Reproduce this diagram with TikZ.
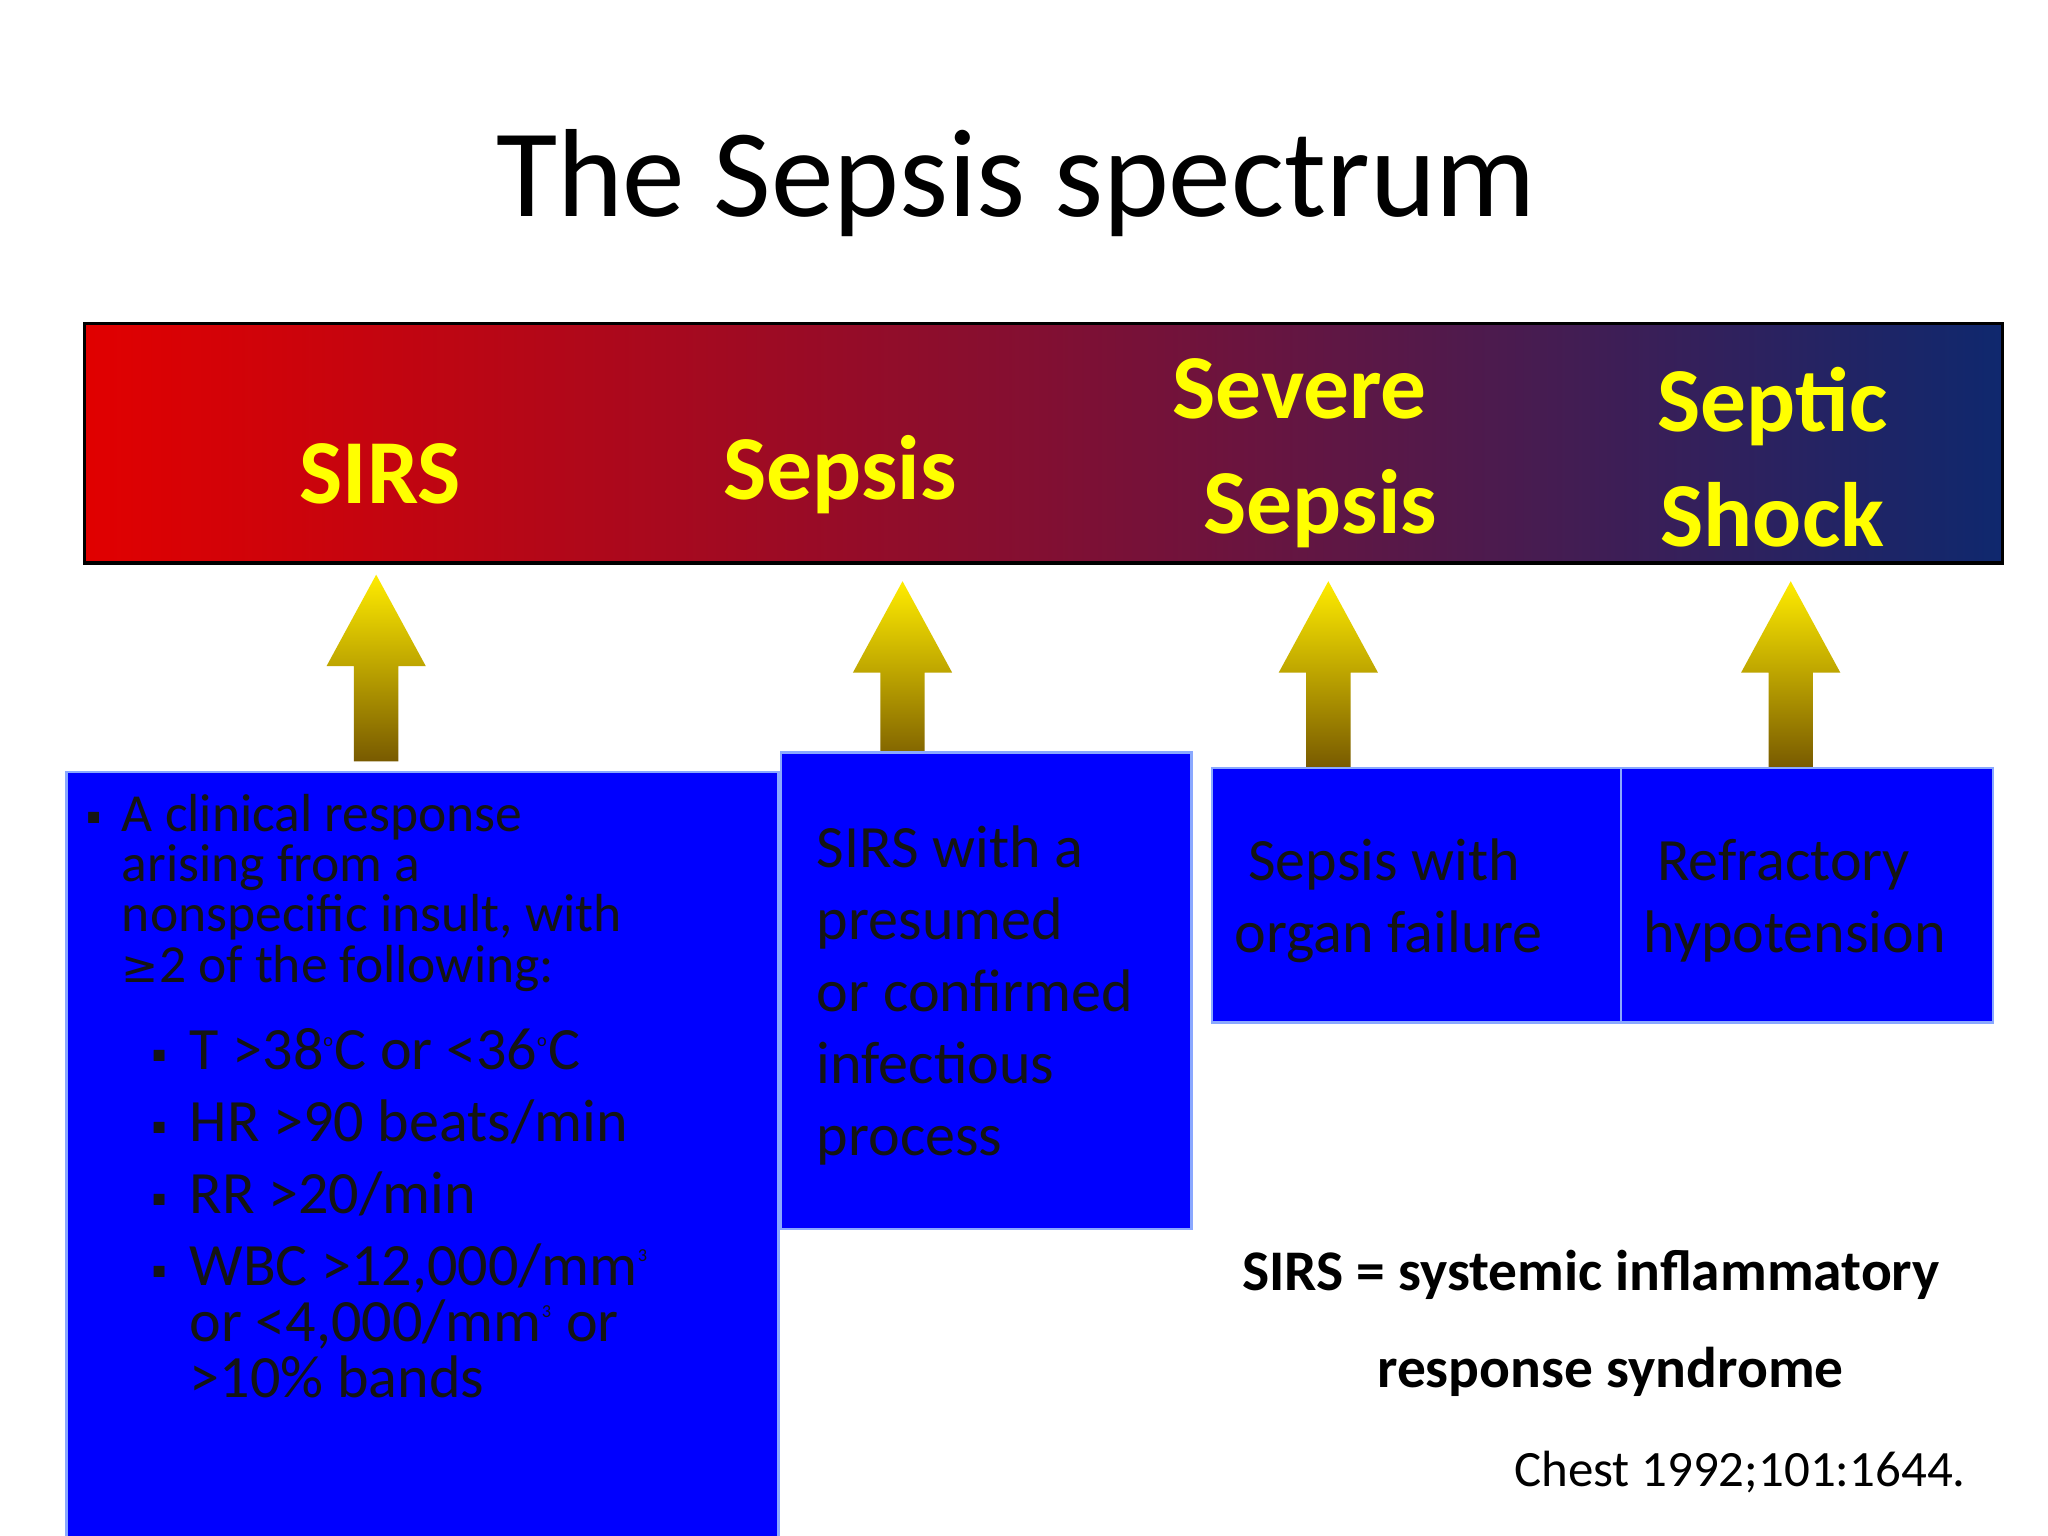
\documentclass[tikz,border=0pt]{standalone}
\usepackage{fontspec}
\setmainfont{Carlito}
\usepackage{amssymb}
\newfontfamily\dvs{DejaVu Sans}
\definecolor{boxblue}{HTML}{0000FF}
\definecolor{boxedge}{HTML}{8AA8FF}
\definecolor{lab}{HTML}{FFFF00}
\definecolor{txt}{HTML}{141414}
\tikzset{
  lbl/.style={text=lab,font=\fontsize{35}{40}\selectfont\bfseries,align=center},
  bbox/.style={fill=boxblue,draw=boxedge,line width=1pt},
  arr/.style={top color=yellow!85!orange,bottom color={rgb,255:red,120;green,90;blue,0},draw=none},
  btxt/.style={text=txt,anchor=north west,align=left,inner sep=0pt},
  big/.style={font=\fontsize{23}{27.5}\selectfont}
}
\newcommand{\uparr}[3]{% center x, top y, bottom y
  \path[arr] (#1-38,-#2-70) -- (#1,-#2) -- (#1+38,-#2-70) -- (#1+17,-#2-70) -- (#1+17,-#3) -- (#1-17,-#3) -- (#1-17,-#2-70) -- cycle;}
\newcommand{\sq}{\raisebox{3pt}{\tiny$\blacksquare$}}
\newcommand{\supo}{\textsuperscript{\scriptsize o}}
\begin{document}
\begin{tikzpicture}[x=0.5pt,y=0.5pt]
\useasboundingbox (0,0) rectangle (1568,-1176);
\fill[white] (0,0) rectangle (1568,-1176);
\node (title) at (778,-140) {\fontsize{48}{56}\selectfont The Sepsis spectrum};
\path[left color={rgb,255:red,225;green,0;blue,0},right color={rgb,255:red,15;green,40;blue,110},middle color={rgb,255:red,130;green,15;blue,50},draw=black,line width=1.2pt] (65,-248) rectangle (1533,-431);
\node[lbl] (l1) at (291,-363) {SIRS};
\node[lbl] (l2) at (643,-363) {Sepsis};
\node[lbl] (l3) at (995,-347) {Severe\\[4pt]\ \ Sepsis};
\node[lbl] (l4) at (1357,-350) {Septic\\[4pt]Shock};
\uparr{288}{440}{583}
\uparr{691}{445}{588}
\uparr{1017}{445}{588}
\uparr{1371}{445}{588}
\path[bbox] (51,-591) rectangle (596,-1178);
\path[bbox] (598,-576) rectangle (912,-941);
\path[bbox] (928,-588) rectangle (1241,-783);
\path[bbox] (1241,-588) rectangle (1526,-783);
\node[btxt] (t1) at (66,-608) {\fontsize{20.5}{20}\selectfont
\begin{tabular}{@{}l@{\ \,}l@{}}
\sq & A clinical response\\[-1pt]
 & arising from a\\[-1pt]
 & nonspecific insult, with\\[-1pt]
 & {\dvs\fontsize{17}{20}\selectfont ≥}2 of the following:
\end{tabular}};
\node[btxt] (t1b) at (116,-780) {\fontsize{23}{27.5}\selectfont
\begin{tabular}{@{}l@{\ \,}l@{}}
\sq & T >38\supo C or <36\supo C\\
\sq & HR >90 beats/min\\
\sq & RR >20/min\\
\sq & WBC >12,000/mm\textsuperscript{\scriptsize 3}\\[-6pt]
 & or <4,000/mm\textsuperscript{\scriptsize 3} or\\[-6pt]
 & >10\% bands
\end{tabular}};
\node[btxt,big] (t2) at (625,-632) {SIRS with a\\presumed\\or confirmed\\infectious\\process};
\node[btxt,big] (t3) at (945,-642) {\ Sepsis with\\organ failure};
\node[btxt,big] (t4) at (1258,-642) {\ Refractory\\hypotension};
\node (f1) at (1218,-976) {\fontsize{22}{22}\selectfont\bfseries SIRS = systemic inflammatory};
\node (f2) at (1233,-1050) {\fontsize{22}{22}\selectfont\bfseries response syndrome};
\node[anchor=east] (f3) at (1512,-1127) {\fontsize{19.5}{20}\selectfont Chest 1992;101:1644.};
\end{tikzpicture}
\end{document}
